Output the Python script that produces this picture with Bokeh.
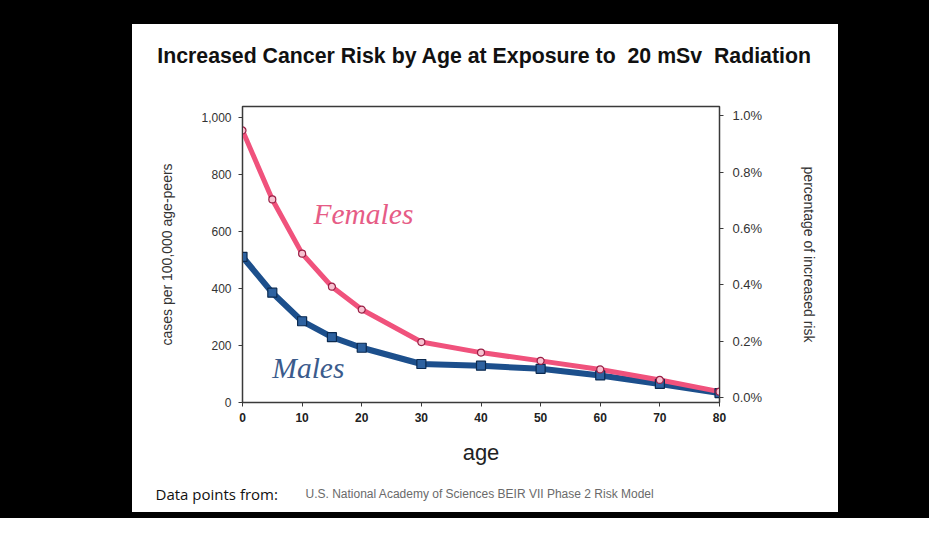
from bokeh.plotting import figure
from bokeh.models import (Range1d, LinearAxis, NumeralTickFormatter, FixedTicker,
                          Label, Spacer)
from bokeh.layouts import row, column
from bokeh.core.properties import value
from bokeh.embed import file_html
from bokeh.resources import INLINE

# ---- data ----
ages = [0, 5, 10, 15, 20, 30, 40, 50, 60, 70, 80]
females = [954, 712, 522, 406, 326, 212, 175, 146, 116, 79, 38]
males = [511, 385, 285, 229, 192, 135, 129, 118, 95, 65, 33]
x_ticks = [0, 10, 20, 30, 40, 50, 60, 70, 80]
y_ticks = [0, 200, 400, 600, 800, 1000]
pct_ticks = [0.0, 0.002, 0.004, 0.006, 0.008, 0.010]

title_text = "Increased Cancer Risk by Age at Exposure to\u00a0 20 mSv\u00a0 Radiation"
footer_lead = "Data points from:"
source_text = "U.S. National Academy of Sciences BEIR VII Phase 2 Risk Model"

# white panel (title strip + chart + footer strip) inside a black page area
PW = 706
TH, CH, FH = 58, 394, 36


def strip(height):
    s = figure(width=PW, height=height, output_backend="svg",
               toolbar_location=None, title=None,
               x_range=Range1d(0, PW), y_range=Range1d(0, height),
               x_axis_location=None, y_axis_location=None, min_border=0,
               border_fill_color="white", background_fill_color="white",
               outline_line_color=None, frame_align=False)
    s.xgrid.visible = False
    s.ygrid.visible = False
    return s


# title strip
t = strip(TH)
t.text(x=[352], y=[27], text=[title_text], text_align="center",
       text_baseline="middle", text_font=value("Liberation Sans"),
       text_font_style="bold", text_font_size=value("21.3px"),
       text_color="#111111")

# main chart
p = figure(width=PW, height=CH, output_backend="svg", toolbar_location=None,
           title=None,
           x_range=Range1d(0, 80), y_range=Range1d(0, 1038),
           min_border_left=110, min_border_right=119,
           min_border_top=24, min_border_bottom=74,
           border_fill_color="white", background_fill_color="white",
           outline_line_color="#3a3a3a", outline_line_width=1.5,
           frame_align=False)
p.xgrid.visible = False
p.ygrid.visible = False

# x axis
xa = p.xaxis[0]
xa.ticker = FixedTicker(ticks=x_ticks)
xa.axis_label = "age"
xa.axis_label_text_font = "Liberation Sans"
xa.axis_label_text_font_style = "normal"
xa.axis_label_text_font_size = "22px"
xa.axis_label_text_color = "#222222"
xa.axis_label_standoff = 15
xa.major_label_text_font = "Liberation Sans"
xa.major_label_text_font_style = "bold"
xa.major_label_text_font_size = "12px"
xa.major_label_text_color = "#222222"
xa.major_label_standoff = 6
xa.major_tick_in = 0
xa.major_tick_out = 4
xa.minor_tick_line_color = None
xa.axis_line_color = "#3a3a3a"
xa.major_tick_line_color = "#3a3a3a"

# left y axis
ya = p.yaxis[0]
ya.ticker = FixedTicker(ticks=y_ticks)
ya.formatter = NumeralTickFormatter(format="0,0")
ya.axis_label = "cases per 100,000 age-peers"
ya.axis_label_text_font = "Liberation Sans"
ya.axis_label_text_font_style = "normal"
ya.axis_label_text_font_size = "14px"
ya.axis_label_text_color = "#333333"
ya.axis_label_standoff = 23
ya.major_label_text_font = "Liberation Sans"
ya.major_label_text_font_size = "12px"
ya.major_label_text_color = "#333333"
ya.major_label_standoff = 7
ya.major_tick_in = 0
ya.major_tick_out = 4
ya.minor_tick_line_color = None
ya.axis_line_color = "#3a3a3a"
ya.major_tick_line_color = "#3a3a3a"

# right y axis (percentage)
p.extra_y_ranges = {"pct": Range1d(-0.000178, 0.010335)}
ra = LinearAxis(y_range_name="pct", ticker=FixedTicker(ticks=pct_ticks),
                formatter=NumeralTickFormatter(format="0.0%"))
ra.axis_label = "percentage of increased risk"
ra.axis_label_text_font = "Liberation Sans"
ra.axis_label_text_font_style = "normal"
ra.axis_label_text_font_size = "14px"
ra.axis_label_text_color = "#333333"
ra.axis_label_standoff = 36
ra.major_label_text_font = "Liberation Sans"
ra.major_label_text_font_size = "13px"
ra.major_label_text_color = "#333333"
ra.major_label_standoff = 9
ra.major_tick_in = 0
ra.major_tick_out = 4
ra.minor_tick_line_color = None
ra.axis_line_color = "#3a3a3a"
ra.major_tick_line_color = "#3a3a3a"
p.add_layout(ra, "right")

# series
male_color = "#1c4f8c"
female_color = "#f0527c"
p.line(ages, males, line_color=male_color, line_width=6, line_join="round")
p.line(ages, females, line_color=female_color, line_width=5, line_join="round")
p.scatter(ages, males, marker="square", size=9, fill_color="#2e62a0",
          line_color="#0b2a50", line_width=1.2)
p.scatter(ages, females, marker="circle", size=7, fill_color="#f7c2d1",
          line_color="#9a1f45", line_width=1.2)

# series labels
p.add_layout(Label(x=11.9, y=662, text="Females", text_align="left",
                   text_baseline="middle", text_font="Liberation Serif",
                   text_font_style="italic", text_font_size="29.5px",
                   text_color="#e65c86"))
p.add_layout(Label(x=5.0, y=120, text="Males", text_align="left",
                   text_baseline="middle", text_font="Liberation Serif",
                   text_font_style="italic", text_font_size="29.5px",
                   text_color="#3b5b8c"))

# footer strip with the source note
f = strip(FH)
f.text(x=[23], y=[19], text=[footer_lead], text_align="left",
       text_baseline="middle", text_font=value("Open Sans"),
       text_font_size=value("15px"), text_color="#111111")
f.text(x=[173], y=[19], text=[source_text], text_align="left",
       text_baseline="middle", text_font=value("Liberation Sans"),
       text_font_size=value("12px"), text_color="#6a6a6a")

BLACK = {"background-color": "black"}
page = row(
    Spacer(width=132, height=518, styles=BLACK),
    column(Spacer(width=PW, height=24, styles=BLACK), t, p, f,
           Spacer(width=PW, height=6, styles=BLACK), spacing=0),
    Spacer(width=91, height=518, styles=BLACK),
    spacing=0,
)

open("out.html", "w").write(file_html(page, INLINE))
